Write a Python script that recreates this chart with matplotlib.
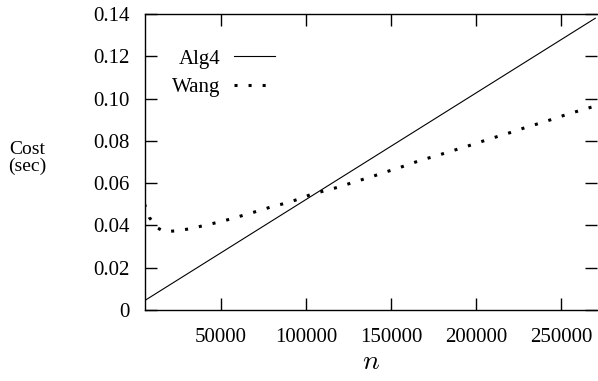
import matplotlib
matplotlib.use("Agg")
import matplotlib.pyplot as plt

plt.rcParams['font.family'] = ['Liberation Serif', 'DejaVu Serif']
plt.rcParams['mathtext.fontset'] = 'cm'

# Data
alg4_n = [5000, 270000]
alg4_cost = [0.0044, 0.1380]

wang_n = [5000, 7800, 12500, 16700, 24300, 33100, 41000, 48400, 56300, 63500,
          73700, 81200, 88600, 96100, 103100, 110600, 118400, 131400, 138400,
          146100, 153700, 160800, 168400, 176100, 183100, 190800, 198400,
          205500, 213100, 220800, 227800, 235500, 243100, 250200, 257800,
          269600, 271000]
wang_cost = [0.0501, 0.0438, 0.0389, 0.0370, 0.0375, 0.0386, 0.0402, 0.0415,
             0.0432, 0.0449, 0.0473, 0.0492, 0.0506, 0.0526, 0.0547, 0.0563,
             0.0580, 0.0613, 0.0630, 0.0651, 0.0670, 0.0690, 0.0711, 0.0728,
             0.0746, 0.0765, 0.0784, 0.0803, 0.0822, 0.0841, 0.0860, 0.0879,
             0.0898, 0.0917, 0.0936, 0.0964, 0.0967]

xticks = [50000, 100000, 150000, 200000, 250000]
yticks = [0, 0.02, 0.04, 0.06, 0.08, 0.10, 0.12, 0.14]
ytick_labels = ['0', '0.02', '0.04', '0.06', '0.08', '0.10', '0.12', '0.14']

W, H = 598, 381
fig = plt.figure(figsize=(W / 100, H / 100), dpi=100)
left, right, top, bottom = 144.5, 597, 14, 310
ax = fig.add_axes([left / W, (H - bottom) / H, (right - left) / W, (bottom - top) / H])

ax.plot(alg4_n, alg4_cost, color='black', lw=0.8, label='Alg4')
ax.plot(wang_n, wang_cost, color='black', lw=2.2, linestyle=(0, (1, 3.6)),
        dash_capstyle='butt', label='Wang')

ax.set_xlim(5000, 271000)
ax.set_ylim(0, 0.14)
ax.set_xticks(xticks)
ax.set_xticklabels([str(v) for v in xticks])
ax.set_yticks(yticks)
ax.set_yticklabels(ytick_labels)

for s in ax.spines.values():
    s.set_linewidth(1.0)
ax.spines['right'].set_visible(False)

ax.tick_params(axis='both', direction='in', length=8.5, width=1.0,
               top=True, right=True, labelsize=15)
ax.tick_params(axis='y', pad=10.8)
ax.tick_params(axis='x', pad=13)

ax.set_xlabel('$n$', fontsize=20, labelpad=2)
fig.text(27 / W, 1 - 158 / H, 'Cost\n(sec)', ha='center', va='center',
         fontsize=14, linespacing=0.95)

ax.legend(loc='upper left', frameon=False, markerfirst=False, fontsize=15,
          handlelength=2.0, labelspacing=0.42, handletextpad=0.63,
          borderpad=0, bbox_to_anchor=(0.061, 0.882), borderaxespad=0)

fig.savefig('out.png', dpi=100)
